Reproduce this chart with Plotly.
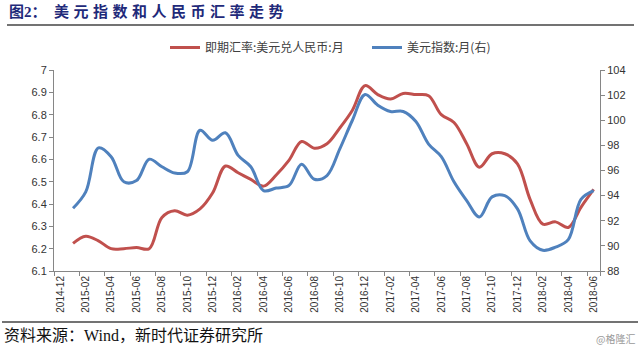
import plotly.graph_objects as go

months = ["2014-12",
          "2015-01", "2015-02", "2015-03", "2015-04", "2015-05", "2015-06",
          "2015-07", "2015-08", "2015-09", "2015-10", "2015-11", "2015-12",
          "2016-01", "2016-02", "2016-03", "2016-04", "2016-05", "2016-06",
          "2016-07", "2016-08", "2016-09", "2016-10", "2016-11", "2016-12",
          "2017-01", "2017-02", "2017-03", "2017-04", "2017-05", "2017-06",
          "2017-07", "2017-08", "2017-09", "2017-10", "2017-11", "2017-12",
          "2018-01", "2018-02", "2018-03", "2018-04", "2018-05", "2018-06"]
data_months = months[1:]

usdcny = [6.224, 6.256, 6.235, 6.200, 6.200, 6.205, 6.200, 6.340, 6.370, 6.350, 6.378, 6.450,
          6.570, 6.540, 6.510, 6.480, 6.530, 6.595, 6.680, 6.650, 6.670, 6.740, 6.820, 6.930,
          6.890, 6.870, 6.895, 6.890, 6.885, 6.800, 6.765, 6.670, 6.565, 6.625, 6.625, 6.580,
          6.420, 6.310, 6.320, 6.295, 6.385, 6.465]

dxy = [93.0, 94.3, 97.8, 97.1, 95.1, 95.2, 96.9, 96.3, 95.8, 95.9, 99.2, 98.4,
       99.0, 97.2, 96.3, 94.4, 94.6, 94.8, 96.5, 95.3, 95.6, 97.7, 100.0, 102.05,
       101.2, 100.7, 100.7, 99.9, 98.1, 97.1, 95.1, 93.6, 92.3, 93.9, 94.0, 92.95,
       90.4, 89.65, 89.9, 90.5, 93.7, 94.4]

left_ticks = [6.1, 6.2, 6.3, 6.4, 6.5, 6.6, 6.7, 6.8, 6.9, 7.0]
left_labels = ["6.1", "6.2", "6.3", "6.4", "6.5", "6.6", "6.7", "6.8", "6.9", "7"]
right_ticks = [88, 90, 92, 94, 96, 98, 100, 102, 104]

name_red = "即期汇率:美元兑人民币:月"
name_blue = "美元指数:月(右)"
title_text = "图2：　<span style=\"letter-spacing:4.5px\">美元指数和人民币汇率走势</span>"
source_text = "资料来源：Wind，新时代证券研究所"
watermark = "@格隆汇"

RED = "#c0504d"
BLUE = "#4f81bd"
AXIS = "#868686"
TICKFONT = dict(family="Liberation Sans, Arial, sans-serif", size=11, color="#333333")

PH = 201.0  # plot height in px
PW = 546.0  # plot width in px


def py(pix):
    """pixel row (from top of page) -> paper y"""
    return (271 - pix) / PH


def px(pix):
    """pixel column -> paper x"""
    return (pix - 54) / PW


fig = go.Figure()
fig.add_trace(go.Scatter(x=data_months, y=usdcny, name=name_red, mode="lines",
                         line=dict(color=RED, width=3, shape="spline", smoothing=1.0)))
fig.add_trace(go.Scatter(x=data_months, y=dxy, name=name_blue, mode="lines", yaxis="y2",
                         line=dict(color=BLUE, width=3, shape="spline", smoothing=1.0)))

fig.update_layout(
    width=640, height=346,
    margin=dict(l=54, r=40, t=70, b=75, autoexpand=False),
    paper_bgcolor="white", plot_bgcolor="white",
    showlegend=True,
    legend=dict(orientation="h", xref="paper", yref="paper",
                x=px(165), y=py(33), xanchor="left", yanchor="top",
                font=dict(family="Noto Sans CJK SC, sans-serif", size=12, color="#404040"),
                entrywidth=157, itemwidth=30, bgcolor="rgba(0,0,0,0)",
                tracegroupgap=0),
    xaxis=dict(type="category", categoryorder="array", categoryarray=months,
               range=[-0.5, len(months) - 0.5],
               tickmode="array", tickvals=months[::2], ticktext=months[::2],
               tickson="boundaries", ticks="outside", ticklen=4, tickcolor=AXIS,
               tickangle=-90, tickfont=dict(family="Liberation Sans, Arial, sans-serif", size=10, color="#333333"),
               showline=True, linecolor=AXIS, linewidth=1, showgrid=False, zeroline=False),
    yaxis=dict(range=[6.1, 7.0], tickmode="array", tickvals=left_ticks, ticktext=left_labels,
               ticks="outside", ticklen=4, tickcolor=AXIS, tickfont=TICKFONT,
               showline=True, linecolor=AXIS, linewidth=1, showgrid=False, zeroline=False),
    yaxis2=dict(range=[88, 104], tickmode="array", tickvals=right_ticks,
                overlaying="y", side="right",
                ticks="outside", ticklen=4, tickcolor=AXIS, tickfont=TICKFONT,
                showline=True, linecolor=AXIS, linewidth=1, showgrid=False, zeroline=False),
    shapes=[
        dict(type="line", xref="paper", yref="paper", x0=px(7), x1=px(634),
             y0=py(25), y1=py(25), line=dict(color="#444444", width=1.5), layer="above"),
        dict(type="line", xref="paper", yref="paper", x0=px(2), x1=px(638),
             y0=py(322), y1=py(322), line=dict(color="#444444", width=1.5), layer="above"),
    ],
    annotations=[
        dict(text=title_text, xref="paper", yref="paper", x=px(7), y=py(12),
             xanchor="left", yanchor="middle", showarrow=False,
             font=dict(family="Liberation Serif, Noto Sans CJK SC, serif", size=15, color="#1f2a7a",
                       weight="bold")),
        dict(text=source_text, xref="paper", yref="paper", x=px(2), y=py(335),
             xanchor="left", yanchor="middle", showarrow=False,
             font=dict(family="Liberation Serif, Noto Sans CJK SC, serif", size=16, color="#111111")),
        dict(text=watermark, xref="paper", yref="paper", x=px(637), y=py(338),
             xanchor="right", yanchor="middle", showarrow=False,
             font=dict(family="Noto Sans CJK SC, sans-serif", size=10, color="#9a9a9a")),
    ],
)

fig.write_html("out.html")
